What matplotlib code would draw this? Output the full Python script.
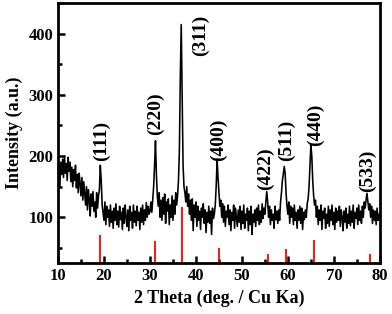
import numpy as np
import matplotlib
matplotlib.use("Agg")
import matplotlib.pyplot as plt
from matplotlib.ticker import MultipleLocator

# 2-theta grid (deg), step 0.2 from 10 to 80
two_theta_start = 10.0
two_theta_step = 0.2

intensity = [
    160, 185, 150, 190, 170,
    195, 165, 200, 172, 188,
    160, 198, 175, 190, 158,
    182, 150, 178, 160, 185,
    148, 170, 140, 172, 155,
    135, 165, 128, 158, 140,
    120, 150, 112, 145, 128,
    102, 138, 118, 142, 110,
    125, 100, 140, 115, 135,
    145, 185, 160, 120, 108,
    95, 125, 88, 118, 100,
    112, 85, 120, 92, 110,
    82, 115, 95, 122, 88,
    110, 84, 118, 96, 108,
    80, 115, 90, 120, 100,
    85, 112, 78, 118, 95,
    108, 82, 120, 92, 110,
    86, 118, 95, 108, 80,
    115, 92, 120, 88, 112,
    95, 124, 100, 118, 105,
    110, 125, 108, 130, 150,
    185, 225, 170, 135, 118,
    140, 100, 128, 95, 132,
    105, 138, 90, 125, 110,
    130, 88, 120, 100, 135,
    95, 128, 105, 140, 120,
    135, 160, 210, 330, 415,
    300, 185, 150, 140, 125,
    150, 118, 138, 105, 128,
    95, 130, 78, 120, 100,
    125, 85, 118, 95, 110,
    80, 115, 100, 122, 90,
    112, 75, 108, 92, 118,
    90, 110, 72, 115, 98,
    105, 120, 150, 195, 165,
    140, 118, 128, 100, 122,
    92, 118, 85, 110, 100,
    120, 88, 112, 78, 108,
    95, 120, 82, 115, 100,
    85, 112, 92, 118, 80,
    110, 90, 120, 82, 105,
    95, 115, 78, 110, 88,
    118, 72, 105, 92, 112,
    85, 115, 95, 120, 88,
    110, 92, 122, 98, 115,
    105, 125, 142, 125, 100,
    118, 88, 112, 95, 105,
    82, 118, 96, 110, 90,
    112, 95, 125, 140, 160,
    170, 183, 172, 140, 118,
    105, 125, 90, 118, 100,
    115, 88, 120, 95, 108,
    82, 112, 95, 118, 90,
    115, 80, 108, 96, 112,
    100, 122, 130, 150, 185,
    218, 200, 160, 135, 120,
    128, 100, 118, 88, 112,
    95, 120, 80, 110, 98,
    115, 82, 105, 90, 118,
    85, 112, 95, 120, 88,
    108, 80, 115, 92, 110,
    95, 118, 85, 112, 100,
    78, 110, 92, 115, 82,
    105, 90, 118, 86, 110,
    92, 120, 82, 108, 98,
    115, 88, 120, 95, 110,
    90, 118, 100, 125, 115,
    128, 139, 125, 112, 122,
    100, 118, 90, 112, 95,
    110, 88, 115, 95, 105,
    100,
]
two_theta = two_theta_start + two_theta_step * np.arange(len(intensity))

# Standard reference (red sticks)
ref_pos = [19.1, 31.1, 36.9, 45.0, 55.6, 59.6, 65.6, 77.8]
ref_height = [71, 61, 116, 49, 40, 48, 62, 40]

# Peak labels
peak_labels = ["(111)", "(220)", "(311)", "(400)", "(422)", "(511)", "(440)", "(533)"]
peak_label_x = [19.5, 31.1, 40.9, 45.0, 55.2, 59.6, 66.1, 77.2]
peak_label_y = [192, 235, 364, 192, 144, 192, 216, 142]

y_min, y_max = 25, 450

plt.rcParams['font.family'] = ['Liberation Serif', 'DejaVu Serif']
plt.rcParams['font.weight'] = 'bold'

fig = plt.figure(figsize=(3.92, 3.14), dpi=100)
ax = fig.add_axes([0.148, 0.162, 0.821, 0.828])

ax.plot(two_theta, intensity, color='black', lw=1.15)
ax.vlines(ref_pos, y_min, ref_height, colors='red', lw=1.3)

for lab, lx, ly in zip(peak_labels, peak_label_x, peak_label_y):
    ax.text(lx, ly, lab, rotation=90, ha='center', va='bottom',
            fontsize=14, fontweight='bold')

ax.set_xlim(10, 80)
ax.set_ylim(y_min, y_max)
ax.xaxis.set_major_locator(MultipleLocator(10))
ax.xaxis.set_minor_locator(MultipleLocator(5))
ax.yaxis.set_major_locator(MultipleLocator(100))
ax.yaxis.set_minor_locator(MultipleLocator(50))
ax.tick_params(which='both', direction='in', top=False, right=False,
               width=1.8, labelsize=12)
ax.tick_params(which='major', length=5)
ax.tick_params(which='minor', length=3)
for lbl in ax.get_xticklabels() + ax.get_yticklabels():
    lbl.set_fontweight('bold')
for s in ax.spines.values():
    s.set_linewidth(2.0)

ax.set_xlabel("2 Theta (deg. / Cu Ka)", fontsize=13, fontweight='bold', labelpad=4)
ax.set_ylabel("Intensity (a.u.)", fontsize=13, fontweight='bold', labelpad=4)

fig.savefig("out.png", dpi=100)
